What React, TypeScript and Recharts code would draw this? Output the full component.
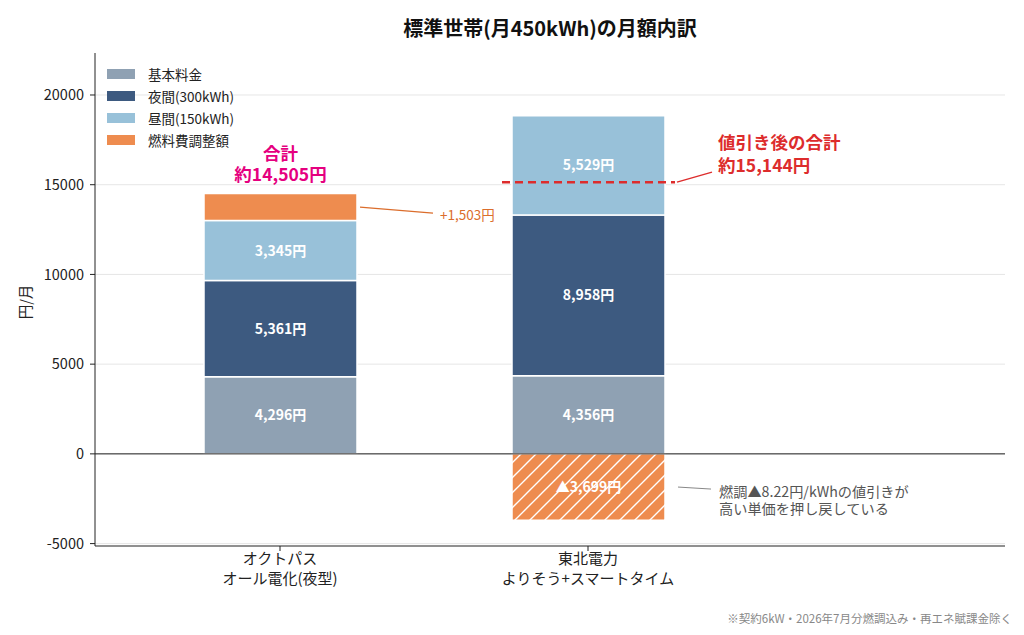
import {
  Bar,
  BarChart,
  CartesianGrid,
  Cell,
  LabelList,
  ReferenceLine,
  XAxis,
  YAxis,
} from "recharts";

const PLANS = ["オクトパス\nオール電化(夜型)", "東北電力\nよりそう+スマートタイム"];
const BASIC = [4296, 4356];
const NIGHT = [5361, 8958];
const DAY = [3345, 5529];
const FUEL = [1503, -3699];
const NET_TOTAL = [14505, 15144];
const Y_TICKS = [-5000, 0, 5000, 10000, 15000, 20000];
const SERIES_NAMES = ["基本料金", "夜間(300kWh)", "昼間(150kWh)", "燃料費調整額"];

const COLORS = ["#8fa1b3", "#3d5a80", "#98c1d9", "#ee8c4f"];
const FONT = "'Noto Sans CJK JP', 'Noto Sans', sans-serif";
const W = 1024;
const H = 635;

const data = PLANS.map((plan, i) => ({
  plan,
  basic: BASIC[i],
  night: NIGHT[i],
  day: DAY[i],
  fuel: FUEL[i],
}));

const yen = (v: number) => `${Math.abs(v).toLocaleString("en-US")}円`;

function box(p: any) {
  const y = Number(p.y);
  const h = Number(p.height);
  return {
    x: Number(p.x),
    w: Number(p.width),
    top: Math.min(y, y + h),
    h: Math.abs(h),
  };
}

function inside(p: any, text: string) {
  const b = box(p);
  return (
    <text
      x={b.x + b.w / 2}
      y={b.top + b.h / 2}
      dy="0.36em"
      textAnchor="middle"
      fill="#fff"
      fontWeight={700}
      fontSize={14}
      fontFamily={FONT}
    >
      {text}
    </text>
  );
}

// two-line note, first line centred on y, second `gap` px lower
function note(x: number, y: number, gap: number, lines: string[], style: any) {
  return (
    <text x={x} y={y} fontFamily={FONT} {...style}>
      {lines.map((l, k) => (
        <tspan key={k} x={x} dy={k === 0 ? "0.36em" : gap}>
          {l}
        </tspan>
      ))}
    </text>
  );
}

const basicLabel = (p: any) => inside(p, yen(BASIC[p.index]));
const nightLabel = (p: any) => inside(p, yen(NIGHT[p.index]));

const dayLabel = (p: any) => {
  const i = p.index;
  const b = box(p);
  if (i !== 1) return inside(p, yen(DAY[i]));
  // dashed marker for the net total, placed with the segment's own scale
  const topValue = BASIC[i] + NIGHT[i] + DAY[i];
  const yLine = b.top + ((topValue - NET_TOTAL[i]) * b.h) / DAY[i];
  const right = b.x + b.w;
  return (
    <g>
      {inside(p, yen(DAY[i]))}
      <line
        x1={b.x - 10}
        x2={right + 10}
        y1={yLine}
        y2={yLine}
        stroke="#dd2c2c"
        strokeWidth={2.5}
        strokeDasharray="8 5"
      />
      <line x1={right + 12} y1={yLine} x2={right + 47} y2={yLine - 10} stroke="#dd2c2c" strokeWidth={1.3} />
      {note(right + 53, yLine - 39, 23, ["値引き後の合計", `約${NET_TOTAL[i].toLocaleString("en-US")}円`], {
        fill: "#dd2c2c",
        fontWeight: 700,
        fontSize: 17.5,
      })}
    </g>
  );
};

const fuelLabel = (p: any) => {
  const i = p.index;
  const b = box(p);
  const right = b.x + b.w;
  const mid = b.top + b.h / 2;
  if (FUEL[i] >= 0) {
    return (
      <g>
        <text x={b.x + b.w / 2} y={b.top - 40} textAnchor="middle" fill="#e5007f" fontWeight={700} fontSize={17.5} fontFamily={FONT}>
          <tspan x={b.x + b.w / 2} dy="0.36em">合計</tspan>
          <tspan x={b.x + b.w / 2} dy={21}>約{NET_TOTAL[i].toLocaleString("en-US")}円</tspan>
        </text>
        <line x1={right + 3} y1={mid} x2={right + 76} y2={mid + 6} stroke="#db6d2c" strokeWidth={1.3} />
        <text x={right + 83} y={mid + 8} dy="0.36em" fill="#db6d2c" fontSize={13.5} fontFamily={FONT}>
          +{FUEL[i].toLocaleString("en-US")}円
        </text>
      </g>
    );
  }
  return (
    <g>
      {inside(p, `▲${yen(FUEL[i])}`)}
      <line x1={right + 13} y1={mid} x2={right + 46} y2={mid + 2} stroke="#888" strokeWidth={1} />
      {note(right + 54, mid + 5, 17, ["燃調▲8.22円/kWhの値引きが", "高い単価を押し戻している"], {
        fill: "#555",
        fontSize: 14.2,
      })}
    </g>
  );
};

const PlanTick = (p: any) => {
  const lines = String(p.payload.value).split("\n");
  return (
    <text x={p.x} y={p.y} textAnchor="middle" fill="#222" fontSize={15} fontFamily={FONT}>
      {lines.map((l, k) => (
        <tspan key={k} x={p.x} dy={k === 0 ? 11 : 20}>
          {l}
        </tspan>
      ))}
    </text>
  );
};

export default function App() {
  return (
    <div style={{ position: "absolute", left: 0, top: 0, width: W, height: H, background: "#fff", fontFamily: FONT }}>
      <div
        style={{
          position: "absolute",
          left: 95,
          width: 910,
          top: 14,
          textAlign: "center",
          fontSize: 20,
          fontWeight: 700,
          color: "#111",
          lineHeight: "28px",
        }}
      >
        標準世帯(月450kWh)の月額内訳
      </div>
      <BarChart
        width={W}
        height={H}
        data={data}
        stackOffset="sign"
        margin={{ top: 53, right: 19, bottom: 29, left: 0 }}
      >
        <defs>
          <pattern id="hatch" patternUnits="userSpaceOnUse" width={15} height={15}>
            <rect width={15} height={15} fill={COLORS[3]} />
            <path d="M-4,4 L4,-4 M0,15 L15,0 M11,19 L19,11" stroke="#fff" strokeWidth={1.4} />
          </pattern>
        </defs>
        <CartesianGrid vertical={false} horizontalValues={Y_TICKS} stroke="#e6e6e6" />
        <XAxis
          dataKey="plan"
          padding={{ left: 31, right: 263 }}
          height={60}
          tickSize={5}
          tickLine={{ stroke: "#222" }}
          axisLine={{ stroke: "#222" }}
          tick={<PlanTick />}
          interval={0}
        />
        <YAxis
          width={95}
          domain={[-5134, 22340]}
          ticks={Y_TICKS}
          allowDataOverflow
          tickSize={5}
          tickMargin={6}
          tickLine={{ stroke: "#222" }}
          axisLine={{ stroke: "#222" }}
          tick={{ fill: "#222", fontSize: 14.5, fontFamily: FONT }}
        />
        <ReferenceLine y={0} stroke="#222" strokeWidth={1} />
        <Bar dataKey="basic" stackId="a" fill={COLORS[0]} stroke="#fff" strokeWidth={1.5} barSize={153} isAnimationActive={false}>
          <LabelList dataKey="basic" content={basicLabel} />
        </Bar>
        <Bar dataKey="night" stackId="a" fill={COLORS[1]} stroke="#fff" strokeWidth={1.5} barSize={153} isAnimationActive={false}>
          <LabelList dataKey="night" content={nightLabel} />
        </Bar>
        <Bar dataKey="day" stackId="a" fill={COLORS[2]} stroke="#fff" strokeWidth={1.5} barSize={153} isAnimationActive={false}>
          <LabelList dataKey="day" content={dayLabel} />
        </Bar>
        <Bar dataKey="fuel" stackId="a" fill={COLORS[3]} stroke="#fff" strokeWidth={1.5} barSize={153} isAnimationActive={false}>
          {FUEL.map((v, i) => (
            <Cell key={i} fill={v < 0 ? "url(#hatch)" : COLORS[3]} />
          ))}
          <LabelList dataKey="fuel" content={fuelLabel} />
        </Bar>
      </BarChart>
      <div style={{ position: "absolute", left: 107, top: 63 }}>
        {SERIES_NAMES.map((name, i) => (
          <div key={name} style={{ display: "flex", alignItems: "center", height: 22 }}>
            <div style={{ width: 28, height: 10, background: COLORS[i] }} />
            <span style={{ marginLeft: 13, fontSize: 13.5, color: "#222" }}>{name}</span>
          </div>
        ))}
      </div>
      <div
        style={{
          position: "absolute",
          left: 24,
          top: 302,
          transform: "translate(-50%, -50%) rotate(-90deg)",
          fontSize: 14.5,
          color: "#222",
          whiteSpace: "nowrap",
        }}
      >
        円/月
      </div>
      <div style={{ position: "absolute", right: 12, top: 610, fontSize: 11.5, color: "#888" }}>
        ※契約6kW・2026年7月分燃調込み・再エネ賦課金除く
      </div>
    </div>
  );
}
